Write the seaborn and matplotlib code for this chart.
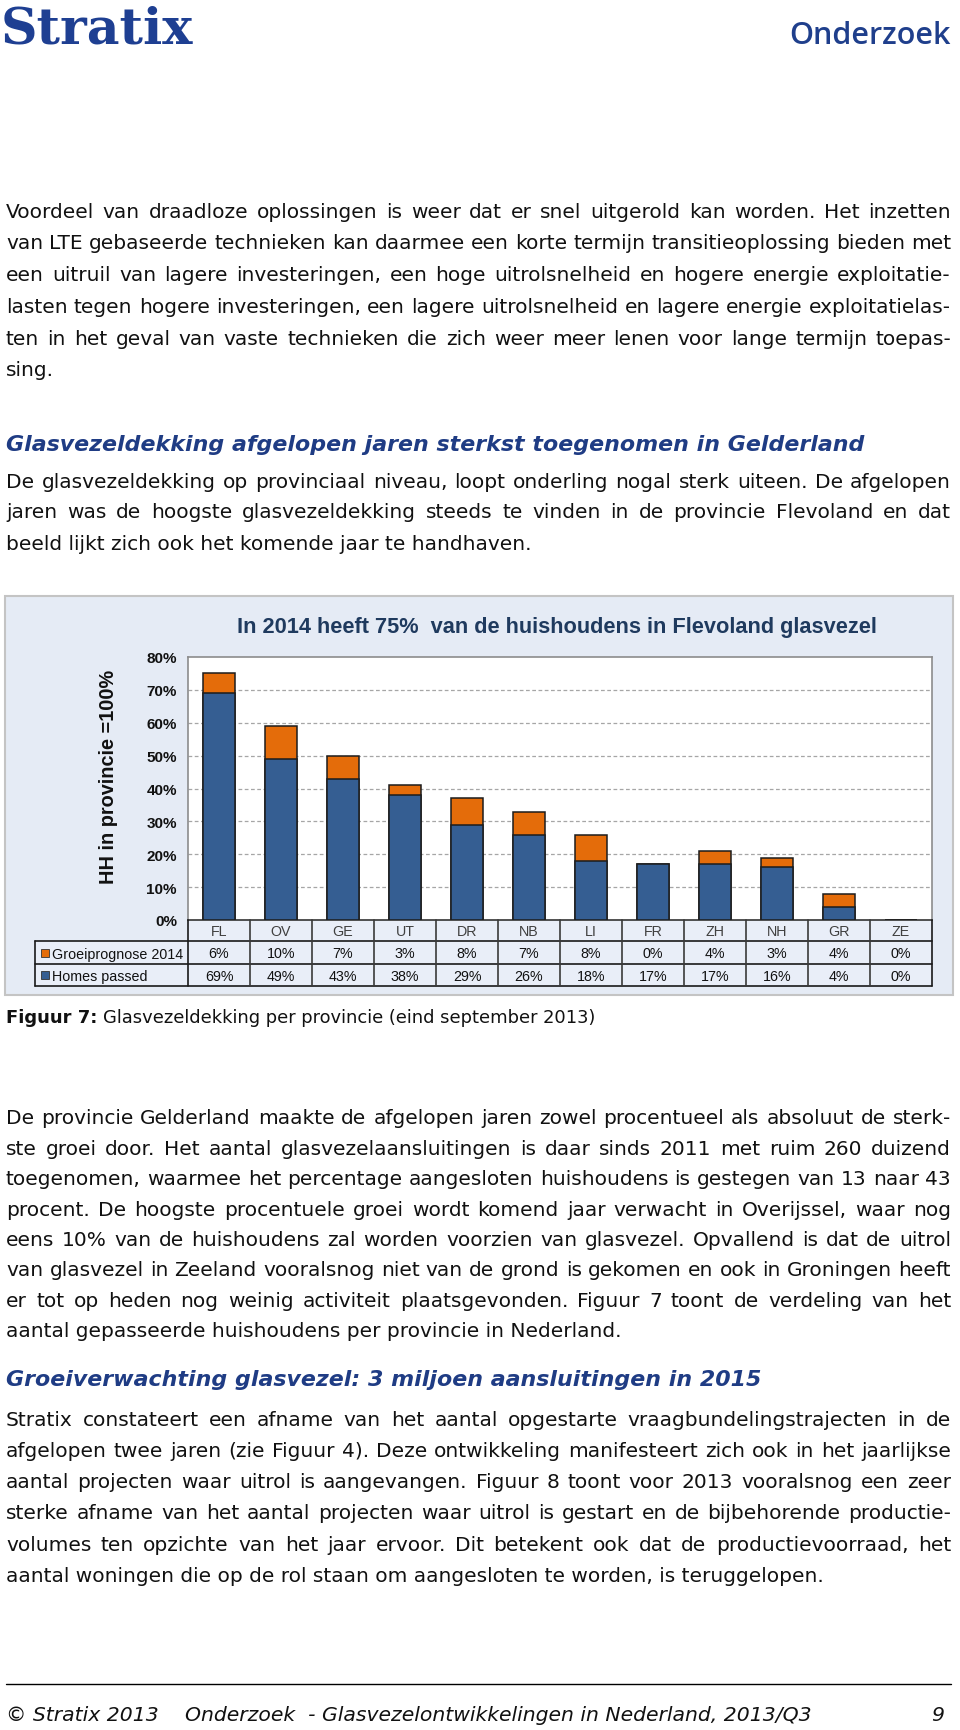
import numpy as np
import pandas as pd
import matplotlib
matplotlib.use("Agg")
import matplotlib.pyplot as plt
import seaborn as sns
from matplotlib.patches import Rectangle
from matplotlib.lines import Line2D
from matplotlib import font_manager as fm

# ---------------- data ----------------
categories = ["FL", "OV", "GE", "UT", "DR", "NB", "LI", "FR", "ZH", "NH", "GR", "ZE"]
homes_passed = [69, 49, 43, 38, 29, 26, 18, 17, 17, 16, 4, 0]
groeiprognose = [6, 10, 7, 3, 8, 7, 8, 0, 4, 3, 4, 0]
ytick_values = [0, 10, 20, 30, 40, 50, 60, 70, 80]
ytick_labels = ["0%", "10%", "20%", "30%", "40%", "50%", "60%", "70%", "80%"]
series_labels = ["Groeiprognose 2014", "Homes passed"]
chart_title = "In 2014 heeft 75%  van de huishoudens in Flevoland glasvezel"
y_label = "HH in provincie =100%"

par1 = [
    "Voordeel van draadloze oplossingen is weer dat er snel uitgerold kan worden. Het inzetten",
    "van LTE gebaseerde technieken kan daarmee een korte termijn transitieoplossing bieden met",
    "een uitruil van lagere investeringen, een hoge uitrolsnelheid en hogere energie exploitatie-",
    "lasten tegen hogere investeringen, een lagere uitrolsnelheid en lagere energie exploitatielas-",
    "ten in het geval van vaste technieken die zich weer meer lenen voor lange termijn toepas-",
    "sing.",
]
heading1 = "Glasvezeldekking afgelopen jaren sterkst toegenomen in Gelderland"
par2 = [
    "De glasvezeldekking op provinciaal niveau, loopt onderling nogal sterk uiteen. De afgelopen",
    "jaren was de hoogste glasvezeldekking steeds te vinden in de provincie Flevoland en dat",
    "beeld lijkt zich ook het komende jaar te handhaven.",
]
caption_bold = "Figuur 7:"
caption_rest = "Glasvezeldekking per provincie (eind september 2013)"
par3 = [
    "De provincie Gelderland maakte de afgelopen jaren zowel procentueel als absoluut de sterk-",
    "ste groei door. Het aantal glasvezelaansluitingen is daar sinds 2011 met ruim 260 duizend",
    "toegenomen, waarmee het percentage aangesloten huishoudens is gestegen van 13 naar 43",
    "procent. De hoogste procentuele groei wordt komend jaar verwacht in Overijssel, waar nog",
    "eens 10% van de huishoudens zal worden voorzien van glasvezel. Opvallend is dat de uitrol",
    "van glasvezel in Zeeland vooralsnog niet van de grond is gekomen en ook in Groningen heeft",
    "er tot op heden nog weinig activiteit plaatsgevonden. Figuur 7 toont de verdeling van het",
    "aantal gepasseerde huishoudens per provincie in Nederland.",
]
heading2 = "Groeiverwachting glasvezel: 3 miljoen aansluitingen in 2015"
par4 = [
    "Stratix constateert een afname van het aantal opgestarte vraagbundelingstrajecten in de",
    "afgelopen twee jaren (zie Figuur 4). Deze ontwikkeling manifesteert zich ook in het jaarlijkse",
    "aantal projecten waar uitrol is aangevangen. Figuur 8 toont voor 2013 vooralsnog een zeer",
    "sterke afname van het aantal projecten waar uitrol is gestart en de bijbehorende productie-",
    "volumes ten opzichte van het jaar ervoor. Dit betekent ook dat de productievoorraad, het",
    "aantal woningen die op de rol staan om aangesloten te worden, is teruggelopen.",
]
footer_left = "\u00a9 Stratix 2013"
footer_mid = "Onderzoek  - Glasvezelontwikkelingen in Nederland, 2013/Q3"
footer_page = "9"
logo_text = "Stratix"
header_right = "Onderzoek"

# ---------------- setup ----------------
W, H = 960, 1731
sns.set_theme(style="white")
plt.rcParams["font.family"] = ["DejaVu Sans"]
available = {f.name for f in fm.fontManager.ttflist}
ARIAL = "Liberation Sans" if "Liberation Sans" in available else "DejaVu Sans"
BODY = "DejaVu Sans"

fig = plt.figure(figsize=(W / 100, H / 100), dpi=100)
fig.patch.set_facecolor("white")
R = fig.canvas.get_renderer()


def fx(px):
    return px / W


def fy(py):
    return 1 - py / H


def txt(px, py, s, **kw):
    kw.setdefault("va", "center")
    return fig.text(fx(px), fy(py), s, **kw)


def width(t):
    return t.get_window_extent(renderer=R).width


def fit(px, py, s, target_w, base=12, **kw):
    t = txt(px, py, s, fontsize=base, **kw)
    w = width(t)
    t.set_fontsize(base * target_w / w)
    return t


LEFT, RIGHT = 6, 951
TEXT_COLOR = "#111111"
NAVY = "#1F3C84"

# body font size from the justified lines
just_lines = par1[:-1] + par2[:-1] + par3[:-1] + par4[:-1]
tmp = [txt(0, 0, l, fontsize=12, family=BODY) for l in just_lines]
natural = max(width(t) for t in tmp)
for t in tmp:
    t.remove()
BODY_SIZE = 12 * (RIGHT - LEFT) / natural * 0.995


def draw_par(lines, y0, dy):
    for i, line in enumerate(lines):
        y = y0 + i * dy
        if i == len(lines) - 1:
            txt(LEFT, y, line, fontsize=BODY_SIZE, family=BODY, color=TEXT_COLOR)
            continue
        words = line.split(" ")
        ts = [txt(0, y, w, fontsize=BODY_SIZE, family=BODY, color=TEXT_COLOR) for w in words]
        ws = [width(t) for t in ts]
        gap = (RIGHT - LEFT - sum(ws)) / (len(ws) - 1)
        x = LEFT
        for t, w in zip(ts, ws):
            t.set_x(fx(x))
            x += w + gap


# ---------------- header ----------------
fit(1, 30, logo_text, 192, family="DejaVu Serif", weight="bold", color="#1E3F92")
fit(789, 36, header_right, 162, family="Open Sans", weight="semibold", color="#1F3F8C")

# ---------------- text blocks ----------------
draw_par(par1, 212, 31.8)
h1 = fit(LEFT, 445, heading1, 855, family=BODY, weight="bold", style="italic", color=NAVY)
draw_par(par2, 482, 31)

# caption
cb = txt(LEFT, 1018, caption_bold, fontsize=12, family=BODY, weight="bold", color=TEXT_COLOR)
cr = txt(0, 1018, caption_rest, fontsize=12, family=BODY, color=TEXT_COLOR)
sp = txt(0, 0, "a a", fontsize=12, family=BODY)
sp2 = txt(0, 0, "aa", fontsize=12, family=BODY)
space = width(sp) - width(sp2)
sp.remove(); sp2.remove()
tot = width(cb) + space + width(cr)
cs = 12 * (593 - LEFT) / tot
cb.set_fontsize(cs)
cr.set_fontsize(cs)
cr.set_x(fx(LEFT + width(cb) + space * cs / 12))

draw_par(par3, 1119, 30.4)
h2 = txt(LEFT, 1380, heading2, fontsize=h1.get_fontsize(), family=BODY, weight="bold",
         style="italic", color=NAVY)
draw_par(par4, 1420, 31.3)

# ---------------- footer ----------------
fig.add_artist(Line2D([fx(LEFT), fx(RIGHT)], [fy(1685), fy(1685)], transform=fig.transFigure,
                      color="black", lw=1))
fm_t = fit(185, 1716, footer_mid, 626, family=BODY, style="italic", color=TEXT_COLOR)
fsz = fm_t.get_fontsize()
txt(LEFT, 1716, footer_left, fontsize=fsz, family=BODY, style="italic", color=TEXT_COLOR)
txt(944, 1716, footer_page, fontsize=fsz, family=BODY, style="italic", color=TEXT_COLOR, ha="right")

# ---------------- chart ----------------
BOX_L, BOX_T, BOX_R, BOX_B = 5, 597, 953, 996
PL, PT, PR, PB = 188, 658, 932, 921
TBL_L = 35
ROWS = [921, 942, 965, 987]
CHART_BG = "#E5EBF5"
CELL_BG = "#E9EEF8"
ORANGE = "#E46C0A"
BLUE = "#355E92"

fig.add_artist(Rectangle((fx(BOX_L), fy(BOX_B)), (BOX_R - BOX_L) / W, (BOX_B - BOX_T) / H,
                         transform=fig.transFigure, facecolor=CHART_BG, edgecolor="#C4C4C4",
                         lw=1.5, zorder=-2))
fig.add_artist(Rectangle((fx(TBL_L), fy(ROWS[3])), (PR - TBL_L) / W, (ROWS[3] - ROWS[1]) / H,
                         transform=fig.transFigure, facecolor=CELL_BG, edgecolor="none", zorder=-1))
fig.add_artist(Rectangle((fx(PL), fy(ROWS[1])), (PR - PL) / W, (ROWS[1] - ROWS[0]) / H,
                         transform=fig.transFigure, facecolor=CELL_BG, edgecolor="none", zorder=-1))

ax = fig.add_axes([fx(PL), fy(PB), (PR - PL) / W, (PB - PT) / H])
ax.set_facecolor("white")
df = pd.DataFrame({"provincie": categories, "homes": homes_passed, "groei": groeiprognose})
df["totaal"] = df["homes"] + df["groei"]
sns.barplot(data=df, x="provincie", y="totaal", order=categories, color=ORANGE, saturation=1,
            width=0.53, edgecolor="#1c1c1c", linewidth=1.1, ax=ax, zorder=2)
sns.barplot(data=df, x="provincie", y="homes", order=categories, color=BLUE, saturation=1,
            width=0.53, edgecolor="#1c1c1c", linewidth=1.1, ax=ax, zorder=3)
ax.set_xlim(-0.5, len(categories) - 0.5)
ax.set_ylim(0, 80)
ax.set_xticks([])
ax.set_xlabel("")
ax.set_ylabel("")
ax.set_yticks(ytick_values)
ax.set_yticklabels(ytick_labels, fontfamily=ARIAL, fontweight="bold", fontsize=11, color="#111111")
ax.tick_params(axis="y", length=0, pad=8)
for v in ytick_values[1:-1]:
    ax.axhline(v, color="#A6A6A6", ls=(0, (3, 2)), lw=0.9, zorder=1)
for side in ["top", "left", "right"]:
    ax.spines[side].set_color("#8C8C8C")
    ax.spines[side].set_linewidth(1.2)
ax.spines["bottom"].set_color("#333333")
ax.spines["bottom"].set_linewidth(1.2)

# chart title and y label
fit(557, 627, chart_title, 635, family=ARIAL, weight="bold", color="#1F3A5E", ha="center")
yl = fit(108, 777, y_label, 212, family=ARIAL, weight="bold", color="#111111", ha="center")
yl.set_rotation(90)

# data table below the chart
def hline(y, x0, x1, color="#1a1a1a", lw=1.2):
    fig.add_artist(Line2D([fx(x0), fx(x1)], [fy(y), fy(y)], transform=fig.transFigure,
                          color=color, lw=lw, zorder=2))


def vline(x, y0, y1, color="#1a1a1a", lw=1.2):
    fig.add_artist(Line2D([fx(x), fx(x)], [fy(y0), fy(y1)], transform=fig.transFigure,
                          color=color, lw=lw, zorder=2))


n = len(categories)
colw = (PR - PL) / n
for y in ROWS[1:]:
    hline(y, TBL_L, PR)
for i in range(n + 1):
    x = PL + i * colw
    vline(x, ROWS[0], ROWS[3], color="#3a3a3a" if 0 < i < n else "#1a1a1a")
vline(TBL_L, ROWS[1], ROWS[3])

TBL_SIZE = 10.3
for i, cat in enumerate(categories):
    cx = PL + (i + 0.5) * colw
    txt(cx, (ROWS[0] + ROWS[1]) / 2 + 1, cat, fontsize=TBL_SIZE, family=ARIAL, color="#404040",
        ha="center")
    txt(cx, (ROWS[1] + ROWS[2]) / 2 + 1, f"{groeiprognose[i]}%", fontsize=TBL_SIZE, family=ARIAL,
        color="#111111", ha="center")
    txt(cx, (ROWS[2] + ROWS[3]) / 2 + 1, f"{homes_passed[i]}%", fontsize=TBL_SIZE, family=ARIAL,
        color="#111111", ha="center")

for (label, col), (r0, r1) in zip(zip(series_labels, [ORANGE, BLUE]), [(ROWS[1], ROWS[2]), (ROWS[2], ROWS[3])]):
    yc = (r0 + r1) / 2
    fig.add_artist(Rectangle((fx(41), fy(yc + 4)), 8 / W, 8 / H, transform=fig.transFigure,
                             facecolor=col, edgecolor="#333333", lw=0.6, zorder=2))
    txt(52, yc + 1, label, fontsize=TBL_SIZE, family=ARIAL, color="#111111")

fig.savefig("out.png", dpi=100, facecolor="white")
